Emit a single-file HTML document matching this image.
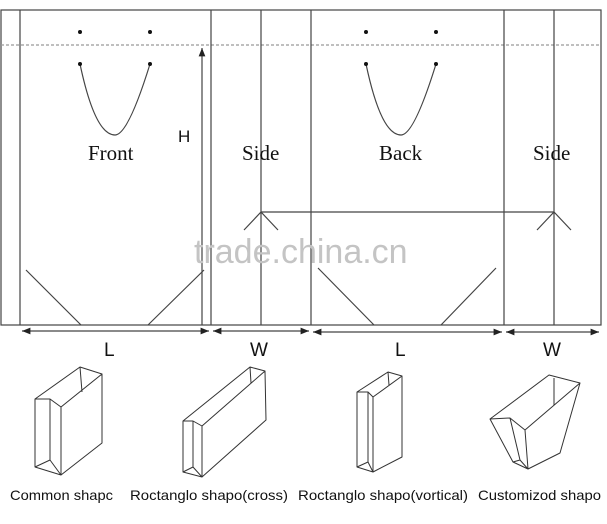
<!DOCTYPE html>
<html><head><meta charset="utf-8"><style>
html,body{margin:0;padding:0;background:#fff;}
svg{display:block;}
.s{font-family:"Liberation Serif",serif;font-size:21px;fill:#111;}
.a{font-family:"Liberation Sans",sans-serif;fill:#111;}
</style></head><body>
<svg width="607" height="524" viewBox="0 0 607 524" xmlns="http://www.w3.org/2000/svg">
<defs>
<marker id="ar" viewBox="0 0 10 10" refX="10" refY="5" markerWidth="7" markerHeight="7" orient="auto-start-reverse"><path d="M0,1 L10,5 L0,9 z" fill="#222"/></marker>
</defs>
<g stroke="#444" stroke-width="1.2" fill="none">
<rect x="1" y="10" width="600" height="315"/>
<line x1="1" y1="45" x2="601" y2="45" stroke="#999" stroke-dasharray="3,2"/>
<line x1="20" y1="10" x2="20" y2="325"/>
<line x1="211" y1="10" x2="211" y2="325"/>
<line x1="261" y1="10" x2="261" y2="325"/>
<line x1="311" y1="10" x2="311" y2="325"/>
<line x1="504" y1="10" x2="504" y2="325"/>
<line x1="554" y1="10" x2="554" y2="325"/>
<line x1="261" y1="212" x2="554" y2="212"/>
<path d="M244,230 L261,212 L278,230"/>
<path d="M537,230 L554,212 L571,230"/>
<path d="M26,270 L81,325 M204,270 L148,325"/>
<path d="M318,268 L374,325 M496,268 L441,325"/>
<path d="M80,64 Q95,135 115,135 Q128,135 150,64"/>
<path d="M366,64 Q381,135 401,135 Q414,135 436,64"/>
<line x1="202" y1="325" x2="202" y2="48" marker-end="url(#ar)"/>
<line x1="22" y1="331" x2="209" y2="331" marker-start="url(#ar)" marker-end="url(#ar)"/>
<line x1="213" y1="331" x2="309" y2="331" marker-start="url(#ar)" marker-end="url(#ar)"/>
<line x1="313" y1="332" x2="502" y2="332" marker-start="url(#ar)" marker-end="url(#ar)"/>
<line x1="506" y1="332" x2="599" y2="332" marker-start="url(#ar)" marker-end="url(#ar)"/>
</g>
<g fill="#111">
<circle cx="80" cy="32" r="2"/><circle cx="150" cy="32" r="2"/><circle cx="80" cy="64" r="2"/><circle cx="150" cy="64" r="2"/>
<circle cx="366" cy="32" r="2"/><circle cx="436" cy="32" r="2"/><circle cx="366" cy="64" r="2"/><circle cx="436" cy="64" r="2"/>
</g>
<text class="s" x="88" y="160">Front</text>
<text class="s" x="242" y="160">Side</text>
<text class="s" x="379" y="160">Back</text>
<text class="s" x="533" y="160">Side</text>
<text class="a" x="178" y="142" font-size="17">H</text>
<text class="a" x="104" y="356" font-size="19">L</text>
<text class="a" x="250" y="356" font-size="19">W</text>
<text class="a" x="395" y="356" font-size="19">L</text>
<text class="a" x="543" y="356" font-size="19">W</text>
<text class="a" x="194" y="263" font-size="34" style="fill:#c4c4c4">trade.china.cn</text>
<g stroke="#333" stroke-width="1" fill="none" stroke-linejoin="round">
<path d="M35,399 L80,367 L102,374 L102,443 L61,475 L35,467 Z M35,399 L50,399 L61,407 L102,374 M61,407 L61,475 M50,399 L50,460 L35,467 M50,460 L61,475 M80,367 L82,392"/>
<path d="M183,421 L250,367 L265,371 L266,420 L202,477 L183,472 Z M183,421 L193,421 L202,426 L265,371 M202,426 L202,477 M193,421 L193,467 L183,472 M193,467 L202,477 M250,367 L251,383"/>
<path d="M357,392 L388,372 L402,376 L402,457 L373,472 L357,467 Z M357,392 L368,392 L373,397 L402,376 M373,397 L373,472 M368,392 L368,462 L357,467 M368,462 L373,472 M388,372 L389,385"/>
<path d="M490,419 L549,375 L580,383 L560,453 L528,469 L513,462 Z M490,419 L510,418 L525,430 L580,383 M525,430 L528,469 M510,418 L520,460 L513,462 M520,460 L528,469 M554,378 L554,405"/>
</g>
<g class="a" font-size="14">
<text x="10" y="500" textLength="103" lengthAdjust="spacingAndGlyphs">Common shapc</text>
<text x="130" y="500" textLength="158" lengthAdjust="spacingAndGlyphs">Roctanglo shapo(cross)</text>
<text x="298" y="500" textLength="170" lengthAdjust="spacingAndGlyphs">Roctanglo shapo(vortical)</text>
<text x="478" y="500" textLength="123" lengthAdjust="spacingAndGlyphs">Customizod shapo</text>
</g>
</svg>
</body></html>
